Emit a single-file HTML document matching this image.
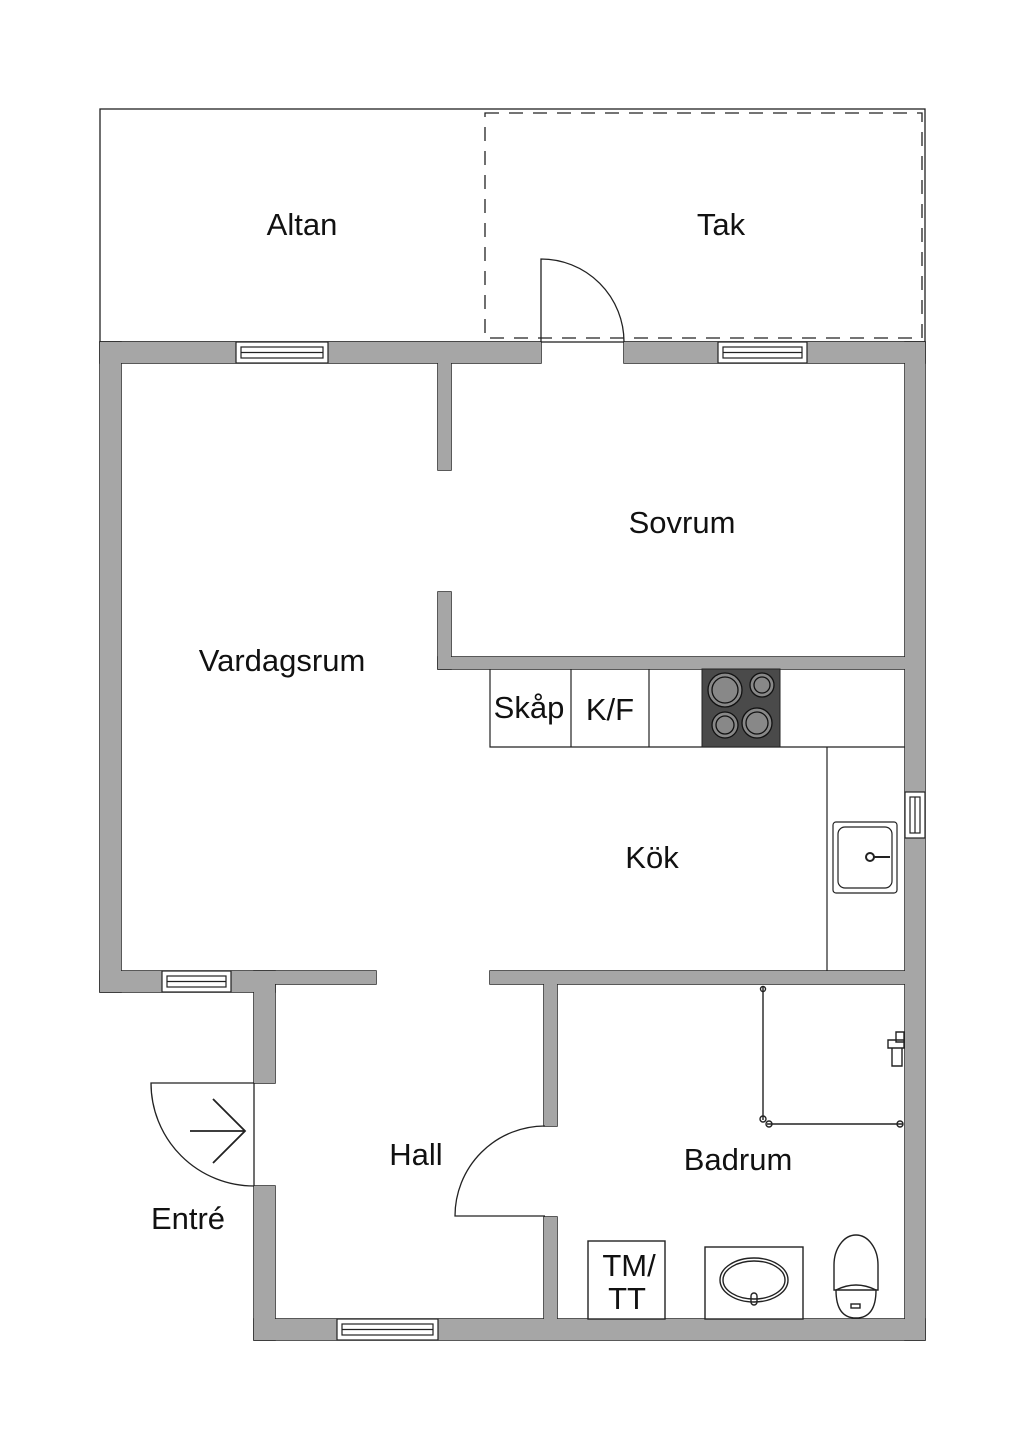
<!DOCTYPE html>
<html><head><meta charset="utf-8"><style>
html,body{margin:0;padding:0;background:#fff}
svg{display:block}
text{font-family:"Liberation Sans",sans-serif;font-size:31px;fill:#111}
</style></head><body>
<svg width="1024" height="1448" viewBox="0 0 1024 1448" xmlns="http://www.w3.org/2000/svg">
<defs>
<g id="walls">
<rect x="100" y="342" width="441" height="21"/>
<rect x="624" y="342" width="301" height="21"/>
<rect x="100" y="342" width="21" height="650"/>
<rect x="905" y="342" width="20" height="998"/>
<rect x="438" y="362" width="13" height="108"/>
<rect x="438" y="592" width="13" height="77"/>
<rect x="438" y="657" width="468" height="12"/>
<rect x="100" y="971" width="175" height="21"/>
<rect x="254" y="971" width="122" height="13"/>
<rect x="490" y="971" width="416" height="13"/>
<rect x="254" y="983" width="21" height="100"/>
<rect x="254" y="1186" width="21" height="154"/>
<rect x="544" y="983" width="13" height="143"/>
<rect x="544" y="1217" width="13" height="103"/>
<rect x="254" y="1319" width="671" height="21"/>
</g>
</defs>
<g fill="none" stroke="#222" stroke-width="1.3">
<rect x="100" y="109" width="825" height="233"/>
<rect x="485" y="113" width="437" height="225" stroke-dasharray="14,10"/>
</g>
<use href="#walls" fill="#a6a6a6" stroke="#222" stroke-width="1.5"/>
<use href="#walls" fill="#a6a6a6" stroke="none"/>
<!-- windows -->
<g fill="#fff" stroke="#222" stroke-width="1.2">
<rect x="236" y="342" width="92" height="21"/>
<rect x="241" y="347" width="82" height="11"/>
<line x1="241" y1="352.5" x2="323" y2="352.5"/>
<rect x="718" y="342" width="89" height="21"/>
<rect x="723" y="347" width="79" height="11"/>
<line x1="723" y1="352.5" x2="802" y2="352.5"/>
<rect x="162" y="971" width="69" height="21"/>
<rect x="167" y="976" width="59" height="11"/>
<line x1="167" y1="981.5" x2="226" y2="981.5"/>
<rect x="337" y="1319" width="101" height="21"/>
<rect x="342" y="1324" width="91" height="11"/>
<line x1="342" y1="1329.5" x2="433" y2="1329.5"/>
<rect x="905" y="792" width="20" height="46"/>
<rect x="910" y="797" width="10" height="36"/>
<line x1="915" y1="797" x2="915" y2="833"/>
</g>
<!-- doors -->
<g fill="none" stroke="#222" stroke-width="1.3">
<path d="M541 342 V259 A83 83 0 0 1 624 342"/>
<path d="M545 1216 H455 A90 90 0 0 1 545 1126"/>
<path d="M254 1083 H151 A103 103 0 0 0 254 1186"/>
<line x1="254" y1="1083" x2="254" y2="1186"/>
<path d="M190 1131 H245 M213 1099 L245 1131 L213 1163" stroke-width="1.8"/>
</g>
<!-- kitchen -->
<g fill="none" stroke="#222" stroke-width="1.2">
<path d="M490 669 V747 H905 M571 669 V747 M649 669 V747 M827 747 V971"/>
<rect x="833" y="822" width="64" height="71" rx="3"/>
<rect x="838" y="827" width="54" height="61" rx="7"/>
<circle cx="870" cy="857" r="4" stroke-width="2"/>
<line x1="874" y1="857" x2="890" y2="857" stroke-width="2"/>
</g>
<rect x="702" y="669" width="78" height="78" fill="#4a4a4a" stroke="#222"/>
<g fill="#888" stroke="#111" stroke-width="1.3">
<circle cx="725" cy="690" r="17"/><circle cx="725" cy="690" r="13"/>
<circle cx="762" cy="685" r="12"/><circle cx="762" cy="685" r="8"/>
<circle cx="725" cy="725" r="13"/><circle cx="725" cy="725" r="9"/>
<circle cx="757" cy="723" r="15"/><circle cx="757" cy="723" r="11"/>
</g>
<!-- bathroom -->
<g fill="none" stroke="#222" stroke-width="1.4">
<path d="M763 987 V1120 M767 1124 H903"/>
<circle cx="763" cy="989" r="2.5"/><circle cx="763" cy="1119" r="3"/><circle cx="769" cy="1124" r="3"/><circle cx="900" cy="1124" r="3"/>
<path d="M896 1032 h8 v10 h-8 z M888 1040 h16 v8 h-16 z M892 1048 h10 v18 h-10 z"/>
<rect x="588" y="1241" width="77" height="78" fill="#fff"/>
<rect x="705" y="1247" width="98" height="72" fill="#fff"/>
<ellipse cx="754" cy="1280" rx="34" ry="22"/>
<ellipse cx="754" cy="1280" rx="31" ry="19"/>
<rect x="751" y="1293" width="6" height="12" rx="3"/>
<path d="M834 1290 V1265 A22 30 0 0 1 878 1265 V1290 Z"/>
<path d="M836 1290 Q856 1280 876 1290 Q876 1318 856 1318 Q836 1318 836 1290 Z"/>
<rect x="851" y="1304" width="9" height="4"/>
</g>
<!-- labels -->
<g text-anchor="middle">
<text x="302" y="235">Altan</text>
<text x="721" y="235">Tak</text>
<text x="682" y="533">Sovrum</text>
<text x="282" y="671">Vardagsrum</text>
<text x="529" y="718">Skåp</text>
<text x="610" y="720">K/F</text>
<text x="652" y="868">Kök</text>
<text x="416" y="1165">Hall</text>
<text x="188" y="1229">Entré</text>
<text x="738" y="1170">Badrum</text>
<text x="629" y="1276">TM/</text>
<text x="627" y="1309">TT</text>
</g>
</svg>
</body></html>
